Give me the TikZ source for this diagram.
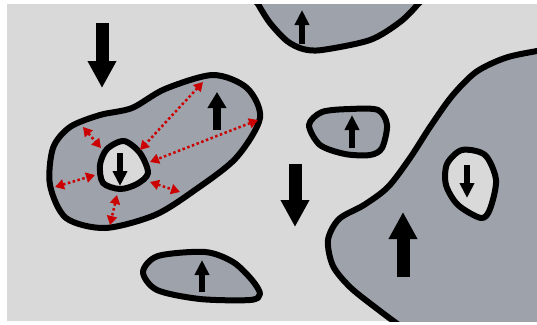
\documentclass[tikz,border=0pt]{standalone}
\usepackage{tikz}
\usetikzlibrary{arrows.meta}
\tikzset{>=latex}
\definecolor{mybg}{RGB}{217, 217, 217}
\definecolor{myregion}{RGB}{158, 162, 170}
\definecolor{myred}{RGB}{204, 0, 0}
\tikzset{
  region/.style={fill=myregion, draw=black, line width=6pt, line join=round},
  hollow/.style={fill=mybg, draw=black, line width=6pt, line join=round},
  bigarrow/.style={line width=13pt, -{Triangle[width=27pt,length=27pt]}},
  midarrow/.style={line width=8pt, -{Triangle[width=18pt,length=16pt]}},
  smallarrow/.style={line width=5.5pt, -{Triangle[width=14pt,length=15pt]}},
  gap/.style={myred, line width=2.5pt, dash pattern=on 2.5pt off 2.5pt, {Triangle[width=10pt,length=9pt]}-{Triangle[width=10pt,length=9pt]}}
}

\begin{document}
\begin{tikzpicture}[x=1pt, y=-1pt]
\useasboundingbox (0,0) rectangle (537,324);
\fill[mybg] (7,4) rectangle (537,321);
\begin{scope}
\clip (7,4) rectangle (537,321);
% regions touching the border
\draw[region] plot[smooth cycle] coordinates {(250,-12) (258,4) (270,23) (287,41) (303,49) (322,50) (370,40) (400,22) (418,4) (428,-12) (340,-30)};
\draw[region] plot[smooth cycle] coordinates {(580,44) (537,51) (505,58) (476,72) (452,96) (430,127) (410,158) (388,187) (364,205) (339,219) (328,240) (333,266) (351,288) (380,311) (405,330) (440,360) (600,360) (600,42)};
\end{scope}
% left region with its hollow
\draw[region] plot[smooth cycle] coordinates {(213,75) (247,88) (260,118) (236,158) (195,190) (155,215) (105,228) (66,218) (50,185) (53,148) (70,127) (100,115) (132,108) (165,89)};
\draw[hollow] plot[smooth cycle] coordinates {(124,141) (140,153) (148,173) (137,184) (120,189) (103,183) (100,165) (107,149)};
% small regions
\draw[region] plot[smooth cycle] coordinates {(309,125) (322,112) (350,109) (378,110) (387,125) (382,148) (370,155) (345,154) (320,145)};
\draw[region] plot[smooth cycle] coordinates {(143,272) (158,256) (205,252) (233,262) (252,280) (260,294) (250,300) (200,299) (157,290)};
\draw[hollow] plot[smooth cycle] coordinates {(462,150) (485,155) (496,180) (490,209) (481,218) (458,205) (446,185) (447,164)};
% arrows
\draw[bigarrow] (102,23) -- (102,88);
\draw[bigarrow] (295,164) -- (295,227);
\draw[bigarrow] (403,277) -- (403,212);
\draw[midarrow] (217,130) -- (217,92);
\draw[smallarrow] (120,153) -- (120,186);
\draw[smallarrow] (302,44) -- (302,10);
\draw[smallarrow] (352,148) -- (352,115);
\draw[smallarrow] (202,292) -- (202,260);
\draw[smallarrow] (467,165) -- (467,198);
% distances to the hollow
\draw[gap] (83,127) -- (101,148);
\draw[gap] (203,82) -- (140,150);
\draw[gap] (258,120) -- (150,162);
\draw[gap] (55,187) -- (95,175);
\draw[gap] (150,182) -- (180,192);
\draw[gap] (117,195) -- (110,225);
\end{tikzpicture}
\end{document}
